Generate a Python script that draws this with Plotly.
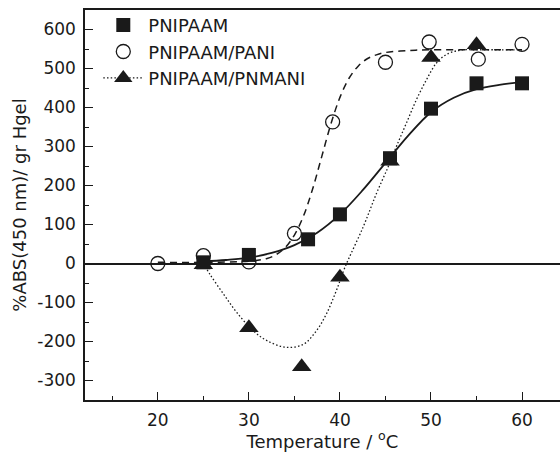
import plotly.graph_objects as go

# ---- measured data points ----
temp_pnipaam = [25, 30, 36.5, 40, 45.5, 50, 55, 60]
abs_pnipaam = [3, 22, 62, 126, 270, 397, 462, 462]

temp_pani = [20, 25, 30, 35, 39.2, 45, 49.8, 55.2, 60]
abs_pani = [0, 20, 4, 77, 363, 516, 568, 524, 562]

temp_pnmani = [25, 30, 35.8, 40, 45.5, 50, 55]
abs_pnmani = [-3, -165, -265, -35, 262, 528, 561]

# ---- fitted curves ----
fit_t_pnipaam = [25, 27.5, 30, 32.5, 35, 37.5, 40, 42.5, 45, 47.5, 50, 52.5, 55, 57.5, 60]
fit_a_pnipaam = [5, 9, 15, 27, 47, 79, 126, 188, 258, 328, 388, 425, 447, 458, 465]

fit_t_pani = [20, 25, 30, 32, 33, 34, 35, 36, 37, 38, 39, 40, 41, 42, 43, 44, 45, 47.5, 50, 55, 60]
fit_a_pani = [3, 3, 6, 13, 23, 41, 73, 122, 191, 274, 357, 426, 475, 506, 525, 535, 541, 546, 548, 548, 548]

fit_t_pnmani = [25, 25.7, 27.2, 28.65, 30.5, 32, 34.1, 36, 37.4, 38.5, 39.6, 40.55, 42.56, 44,
                45.3, 46.2, 47.3, 48.4, 49.5, 50.6, 51.7, 53.2, 55, 57.5, 60]
fit_a_pnmani = [0, -27, -78, -125, -173, -198, -215, -207, -173, -130, -70, -10, 94, 179,
                248, 300, 360, 420, 471, 514, 536, 547, 548, 548, 548]

x_ticks = [20, 30, 40, 50, 60]
y_ticks = [-300, -200, -100, 0, 100, 200, 300, 400, 500, 600]
y_tick_text = ["-300", "-200", "-100", "0", "100", "200", "300", "400", "500", "600"]

names = ["PNIPAAM", "PNIPAAM/PANI", "PNIPAAM/PNMANI"]

INK = "#1a1a1a"
FONT = "DejaVu Sans"
DOT = "1.5px,2.2px"

fig = go.Figure()

fig.add_trace(go.Scatter(x=fit_t_pnipaam, y=fit_a_pnipaam, mode="lines", showlegend=False,
                         line=dict(color=INK, width=1.8, shape="spline", smoothing=1.0),
                         hoverinfo="skip"))
fig.add_trace(go.Scatter(x=fit_t_pani, y=fit_a_pani, mode="lines", showlegend=False,
                         line=dict(color=INK, width=1.5, dash="7px,5px", shape="spline", smoothing=1.0),
                         hoverinfo="skip"))
fig.add_trace(go.Scatter(x=fit_t_pnmani, y=fit_a_pnmani, mode="lines", showlegend=False,
                         line=dict(color=INK, width=1.3, dash=DOT, shape="spline", smoothing=1.0),
                         hoverinfo="skip"))

fig.add_trace(go.Scatter(x=temp_pani, y=abs_pani, mode="markers", name=names[1], legendrank=2,
                         marker=dict(symbol="circle-open", size=14, color=INK, line=dict(width=1.3, color=INK))))
fig.add_trace(go.Scatter(x=temp_pnmani, y=abs_pnmani, mode="markers", name=names[2], showlegend=False,
                         marker=dict(symbol="triangle-up", size=17, color=INK, line=dict(width=0))))
fig.add_trace(go.Scatter(x=temp_pnipaam, y=abs_pnipaam, mode="markers", name=names[0], legendrank=1,
                         marker=dict(symbol="square", size=14, color=INK, line=dict(width=0))))
# legend entry for the triangle series (marker with dotted line)
fig.add_trace(go.Scatter(x=[None], y=[None], mode="lines+markers", name=names[2], legendrank=3,
                         line=dict(color=INK, width=1.3, dash=DOT),
                         marker=dict(symbol="triangle-up", size=17, color=INK, line=dict(width=0))))

fig.update_layout(
    width=560, height=452,
    margin=dict(l=85, r=0, t=10, b=52),
    paper_bgcolor="white", plot_bgcolor="white",
    font=dict(family=FONT, color=INK, size=17),
    showlegend=True,
    legend=dict(x=0.028, y=1.008, xanchor="left", yanchor="top",
                bgcolor="rgba(0,0,0,0)", borderwidth=0,
                font=dict(size=18, family=FONT, color=INK), tracegroupgap=0,
                itemwidth=40),
)

fig.update_xaxes(
    range=[12, 64.17], showgrid=False, zeroline=False,
    showline=True, linecolor=INK, linewidth=1.5, mirror=True,
    tickmode="array", tickvals=x_ticks, ticks="inside", ticklen=8, tickwidth=1.3, tickcolor=INK,
    ticklabelstandoff=4,
    minor=dict(dtick=5, tick0=0, ticks="inside", ticklen=4, tickwidth=1.2, tickcolor=INK, showgrid=False),
    tickfont=dict(size=17, family=FONT, color=INK),
    title=dict(text="Temperature / <sup>o</sup>C", font=dict(size=18, family=FONT, color=INK), standoff=4),
)
fig.update_yaxes(
    range=[-350, 650], showgrid=False,
    zeroline=True, zerolinecolor=INK, zerolinewidth=1.5,
    showline=True, linecolor=INK, linewidth=1.5, mirror=False,
    tickmode="array", tickvals=y_ticks, ticktext=y_tick_text,
    ticks="inside", ticklen=8, tickwidth=1.3, tickcolor=INK,
    ticklabelstandoff=4,
    minor=dict(dtick=50, tick0=0, ticks="inside", ticklen=4, tickwidth=1.2, tickcolor=INK, showgrid=False),
    tickfont=dict(size=17, family=FONT, color=INK),
    title=dict(text="%ABS(450 nm)/ gr Hgel", font=dict(size=18, family=FONT, color=INK), standoff=6),
)

fig.write_html("out.html")
